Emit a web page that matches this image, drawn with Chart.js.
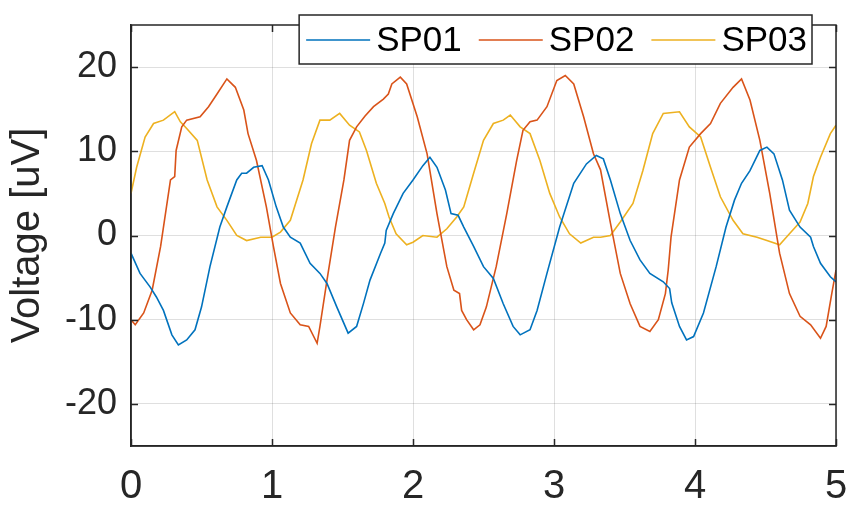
<!DOCTYPE html>
<html><head><meta charset="utf-8">
<script src="https://cdn.jsdelivr.net/npm/chart.js@4.4.1/dist/chart.umd.min.js"></script>
<style>html,body{margin:0;padding:0;background:#fff;} canvas{display:block;}</style>
</head><body>
<canvas id="c" width="847" height="507" style="width:847px;height:507px"></canvas>
<script>
const seriesNames = ['SP01', 'SP02', 'SP03'];
const seriesColors = ['#0072BD', '#D95319', '#EDB120'];

const sp01X = [0,0.064,0.135,0.18,0.23,0.29,0.336,0.395,0.454,0.5,0.56,0.63,0.68,0.75,0.785,0.82,0.87,0.93,0.975,1.03,1.08,1.13,1.2,1.27,1.34,1.39,1.46,1.54,1.6,1.65,1.695,1.77,1.8,1.81,1.86,1.93,2.0,2.07,2.12,2.17,2.23,2.27,2.32,2.36,2.43,2.5,2.57,2.64,2.71,2.76,2.83,2.88,2.95,3.04,3.14,3.23,3.3,3.35,3.4,3.47,3.54,3.61,3.68,3.775,3.82,3.835,3.89,3.94,3.99,4.06,4.15,4.22,4.28,4.33,4.39,4.46,4.51,4.56,4.62,4.67,4.745,4.82,4.84,4.89,4.96,5.0];
const sp01Y = [-2.1,-4.5,-6.1,-7.3,-8.9,-11.8,-13.0,-12.4,-11.2,-8.5,-3.7,1.0,3.4,6.6,7.4,7.4,8.1,8.3,6.6,3.4,1.0,-0.2,-0.9,-3.3,-4.5,-5.7,-8.5,-11.6,-10.8,-8.0,-5.3,-2.1,-0.9,0.6,2.6,5.0,6.6,8.3,9.3,8.1,5.4,2.6,2.4,1.0,-1.3,-3.7,-5.1,-8.1,-10.8,-11.8,-11.2,-8.9,-4.5,1.0,6.2,8.5,9.5,9.1,6.6,2.6,-0.6,-2.9,-4.5,-5.5,-6.3,-8.0,-10.8,-12.4,-12.0,-9.2,-3.7,1.0,4.2,6.2,7.7,10.1,10.5,9.7,6.6,3.0,1.0,-0.2,-1.3,-3.3,-4.9,-5.5];

const sp02X = [0,0.03,0.09,0.15,0.21,0.28,0.31,0.32,0.36,0.395,0.49,0.55,0.61,0.68,0.74,0.8,0.83,0.89,0.96,1.01,1.06,1.13,1.2,1.26,1.32,1.34,1.39,1.45,1.51,1.55,1.6,1.66,1.72,1.79,1.825,1.85,1.91,1.955,2.03,2.1,2.17,2.24,2.29,2.33,2.345,2.38,2.43,2.475,2.52,2.59,2.665,2.735,2.78,2.83,2.88,2.95,3.02,3.08,3.14,3.21,3.28,3.33,3.4,3.47,3.54,3.61,3.68,3.74,3.79,3.81,3.83,3.89,3.96,4.04,4.11,4.18,4.27,4.33,4.39,4.46,4.53,4.6,4.67,4.745,4.82,4.89,4.93,4.97,5.0];
const sp02Y = [-10.0,-10.6,-9.2,-6.5,-1.3,6.6,7.0,10.1,12.9,13.7,14.1,15.3,16.8,18.6,17.6,14.9,12.1,8.9,3.4,-1.3,-5.7,-9.2,-10.6,-10.8,-12.8,-10.8,-5.3,1.0,6.6,11.3,12.9,14.2,15.3,16.2,16.8,18.0,18.8,18.0,14.1,9.7,2.6,-3.7,-6.5,-6.9,-8.9,-10.0,-11.2,-10.6,-8.5,-3.7,2.6,8.9,12.5,13.5,13.7,15.3,18.4,19.0,18.0,14.1,9.7,7.8,1.5,-4.5,-8.1,-10.8,-11.4,-10.0,-6.9,-4.1,-0.2,6.6,10.5,12.1,13.3,15.7,17.6,18.6,16.1,11.3,5.0,-2.1,-6.9,-9.6,-10.6,-12.2,-10.8,-6.9,-4.1];

const sp03X = [0,0.04,0.1,0.16,0.23,0.31,0.35,0.395,0.47,0.54,0.61,0.68,0.75,0.82,0.92,1.0,1.06,1.13,1.22,1.28,1.34,1.41,1.48,1.55,1.62,1.67,1.74,1.8,1.83,1.88,1.955,2.0,2.07,2.17,2.24,2.31,2.36,2.43,2.5,2.57,2.64,2.69,2.76,2.83,2.9,2.97,3.04,3.11,3.19,3.28,3.33,3.4,3.47,3.56,3.63,3.7,3.775,3.89,3.96,4.04,4.11,4.18,4.27,4.34,4.44,4.51,4.6,4.67,4.745,4.8,4.84,4.89,4.96,5.0];
const sp03Y = [5.0,8.1,11.7,13.3,13.7,14.7,13.5,12.7,11.3,6.6,3.4,1.8,0.0,-0.6,-0.2,-0.2,0.4,1.8,6.6,10.9,13.7,13.7,14.5,13.1,12.3,10.1,6.2,3.8,2.2,0.2,-1.1,-0.8,0.0,-0.2,0.8,2.2,3.4,7.4,11.3,13.3,13.7,14.3,12.9,12.1,8.9,5.0,2.2,0.2,-0.9,-0.2,-0.2,0.0,1.6,3.8,7.7,12.1,14.5,14.7,12.9,11.7,8.1,4.6,1.8,0.2,-0.2,-0.6,-1.1,0.2,1.6,3.8,7.0,9.3,12.1,13.1];

const xTicks = [0, 1, 2, 3, 4, 5];
const xTickLabels = ['0', '1', '2', '3', '4', '5'];
const yTicks = [-20, -10, 0, 10, 20];
const yTickLabels = ['-20', '-10', '0', '10', '20'];
const yAxisTitle = 'Voltage [uV]';

const allX = [sp01X, sp02X, sp03X];
const allY = [sp01Y, sp02Y, sp03Y];

const FONT = '"Liberation Sans", Arial, Helvetica, sans-serif';
const AX = '#262626';

const datasets = seriesNames.map((name, i) => ({
  label: name,
  data: allX[i].map((x, k) => ({ x: x, y: allY[i][k] })),
  borderColor: seriesColors[i],
  backgroundColor: seriesColors[i],
  borderWidth: 1.6,
  pointRadius: 0,
  tension: 0,
  fill: false
}));

const framePlugin = {
  id: 'frame',
  afterDatasetsDraw(chart) {
    const { ctx, chartArea: a, scales } = chart;
    ctx.save();
    ctx.strokeStyle = AX;
    ctx.lineWidth = 1.5;
    const tl = 7;
    ctx.beginPath();
    scales.x.ticks.forEach(t => {
      const px = Math.round(scales.x.getPixelForValue(t.value)) + 0.5;
      ctx.moveTo(px, a.bottom); ctx.lineTo(px, a.bottom - tl);
      ctx.moveTo(px, a.top); ctx.lineTo(px, a.top + tl);
    });
    scales.y.ticks.forEach(t => {
      const py = Math.round(scales.y.getPixelForValue(t.value)) + 0.5;
      ctx.moveTo(a.left, py); ctx.lineTo(a.left + tl, py);
      ctx.moveTo(a.right, py); ctx.lineTo(a.right - tl, py);
    });
    ctx.stroke();
    ctx.strokeRect(a.left, a.top, a.right - a.left, a.bottom - a.top);
    ctx.restore();
  },
  afterDraw(chart) {
    const { ctx, chartArea: a } = chart;
    ctx.save();
    ctx.font = '35px ' + FONT;
    const lineLen = 64, gap = 6, sep = 17, padL = 7, padR = 5;
    const widths = seriesNames.map(n => ctx.measureText(n).width);
    let total = padL + padR + sep * (seriesNames.length - 1);
    widths.forEach(w => total += lineLen + gap + w);
    const right = a.right - 24;
    const left = right - total;
    const top = 15, bottom = 64, cy = 40;
    ctx.fillStyle = '#ffffff';
    ctx.fillRect(left, top, total, bottom - top);
    ctx.strokeStyle = AX;
    ctx.lineWidth = 1.5;
    ctx.strokeRect(left, top, total, bottom - top);
    let x = left + padL;
    seriesNames.forEach((n, i) => {
      ctx.strokeStyle = seriesColors[i];
      ctx.lineWidth = 1.6;
      ctx.beginPath();
      ctx.moveTo(x, cy); ctx.lineTo(x + lineLen, cy);
      ctx.stroke();
      x += lineLen + gap;
      ctx.fillStyle = '#000';
      ctx.textBaseline = 'middle';
      ctx.textAlign = 'left';
      ctx.fillText(n, x, cy + 1);
      x += widths[i] + sep;
    });
    ctx.restore();
  }
};

new Chart(document.getElementById('c'), {
  type: 'line',
  data: { datasets },
  options: {
    responsive: false,
    animation: false,
    devicePixelRatio: 1,
    layout: { padding: { top: 25, right: 11, left: 0, bottom: 0 } },
    plugins: { legend: { display: false }, tooltip: { enabled: false } },
    scales: {
      x: {
        type: 'linear', min: 0, max: 5,
        afterBuildTicks: s => { s.ticks = xTicks.map(v => ({ value: v })); },
        afterFit: s => { s.height = 61; s.paddingLeft = 0; s.paddingRight = 0; },
        grid: { color: 'rgba(38,38,38,0.15)', lineWidth: 1, drawTicks: false, tickLength: 0 },
        border: { display: true, color: AX, width: 1.5 },
        ticks: {
          color: AX, padding: 17, maxRotation: 0, autoSkip: false,
          font: { family: FONT, size: 40 },
          callback: (v) => { const i = xTicks.indexOf(v); return i >= 0 ? xTickLabels[i] : ''; }
        }
      },
      y: {
        type: 'linear', min: -25, max: 25,
        afterBuildTicks: s => { s.ticks = yTicks.map(v => ({ value: v })); },
        afterFit: s => { s.width = 131; s.paddingTop = 0; s.paddingBottom = 0; },
        grid: { color: 'rgba(38,38,38,0.15)', lineWidth: 1, drawTicks: false, tickLength: 0 },
        border: { display: true, color: AX, width: 1.5 },
        title: { display: true, text: yAxisTitle, color: AX, font: { family: FONT, size: 40 }, padding: { top: 4, bottom: 0 } },
        ticks: {
          color: AX, padding: 14, autoSkip: false,
          font: { family: FONT, size: 36 },
          callback: (v) => { const i = yTicks.indexOf(v); return i >= 0 ? yTickLabels[i] : ''; }
        }
      }
    }
  },
  plugins: [framePlugin]
});
</script>
</body></html>
